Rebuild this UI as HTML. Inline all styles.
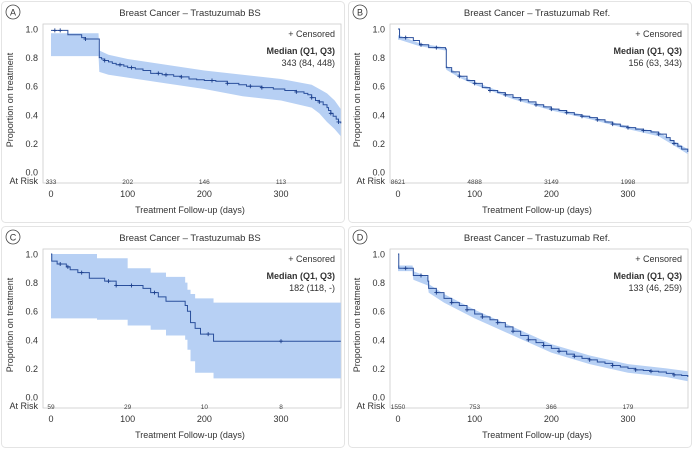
<!DOCTYPE html>
<html><head><meta charset="utf-8"><style>
body{margin:0;background:#fff;width:694px;height:450px;overflow:hidden;font-family:"Liberation Sans",sans-serif}
svg{display:block}
</style></head><body>
<svg id="chart" width="694" height="450" xmlns="http://www.w3.org/2000/svg"></svg>
<script>
// Panel A
const aT=[0,22,40,45,63,66,70,75,80,85,95,100,110,120,130,145,160,170,180,190,200,215,230,245,255,275,290,305,320,330,335,340,345,350,355,360,362,365,368,372,375,378];
const aS=[0.99,0.96,0.94,0.93,0.80,0.79,0.78,0.77,0.76,0.75,0.74,0.73,0.72,0.71,0.69,0.68,0.67,0.665,0.65,0.645,0.64,0.635,0.62,0.61,0.60,0.59,0.58,0.57,0.56,0.55,0.54,0.52,0.50,0.49,0.47,0.45,0.43,0.41,0.39,0.37,0.35,0.34];
const aBT=[0,62,63,75,100,150,200,250,300,340,350,360,370,378];
const aHi=[0.97,0.97,0.85,0.82,0.79,0.75,0.71,0.68,0.65,0.61,0.58,0.55,0.50,0.44];
const aLo=[0.81,0.81,0.70,0.68,0.66,0.62,0.58,0.53,0.50,0.45,0.41,0.35,0.30,0.25];
const aC=[5,12,45,70,90,105,140,150,170,210,230,260,275,320,340,350,365,375];
// Panel B
const bT=[0,2,20,28,40,50,62,63,70,80,90,100,110,120,130,140,150,160,170,180,190,200,210,220,230,240,250,260,270,280,290,300,310,320,330,340,350,355,360,365,370,378];
const bS=[1.0,0.94,0.92,0.89,0.87,0.87,0.86,0.73,0.70,0.67,0.64,0.62,0.59,0.57,0.555,0.54,0.52,0.505,0.49,0.47,0.455,0.44,0.43,0.415,0.40,0.39,0.38,0.365,0.35,0.335,0.32,0.31,0.30,0.29,0.28,0.265,0.24,0.22,0.20,0.18,0.16,0.14];
const bBT=[0,2,28,62,63,80,100,150,200,250,300,340,360,378];
const bHi=[0.955,0.955,0.90,0.87,0.745,0.68,0.63,0.53,0.45,0.39,0.32,0.28,0.215,0.16];
const bLo=[0.925,0.925,0.88,0.85,0.715,0.66,0.61,0.51,0.43,0.37,0.30,0.25,0.185,0.125];
const bC=[10,30,50,80,100,120,140,160,180,200,220,240,260,280,300,320,340,360];
// Panel C
const cT=[0,1,8,20,25,35,50,70,85,120,130,140,150,175,178,182,188,195,212];
const cS=[1.0,0.95,0.93,0.91,0.89,0.87,0.83,0.81,0.78,0.76,0.73,0.70,0.67,0.64,0.60,0.52,0.48,0.44,0.39];
const cBT=[0,60,100,130,150,175,178,182,188,212,378];
const cLo=[0.55,0.54,0.50,0.47,0.43,0.40,0.33,0.25,0.17,0.13,0.13];
const cHi=[1.0,0.97,0.90,0.87,0.84,0.80,0.75,0.72,0.69,0.66,0.66];
const cC=[12,22,40,75,85,105,135,205,300];
// Panel D
const dT=[0,1,19,20,39,40,50,60,70,80,90,100,110,120,130,140,150,160,170,180,190,200,210,220,230,240,250,260,270,280,290,300,310,320,330,340,350,360,370,378];
const dS=[1.0,0.90,0.90,0.85,0.81,0.76,0.73,0.69,0.66,0.64,0.61,0.58,0.56,0.54,0.52,0.49,0.46,0.43,0.40,0.38,0.36,0.34,0.32,0.30,0.285,0.27,0.26,0.245,0.235,0.22,0.21,0.20,0.19,0.185,0.18,0.175,0.165,0.155,0.15,0.14];
const dBT=[0,1,19,20,39,40,60,100,150,200,250,300,350,378];
const dHi=[0.92,0.92,0.92,0.88,0.84,0.79,0.72,0.61,0.49,0.37,0.29,0.23,0.20,0.18];
const dLo=[0.88,0.88,0.88,0.82,0.78,0.73,0.66,0.55,0.43,0.31,0.23,0.17,0.14,0.11];
const dC=[10,30,50,70,90,110,130,150,170,190,210,230,250,280,310,330,360];
const yTicks=[0,0.2,0.4,0.6,0.8,1.0];
const xTicks=[0,100,200,300];
const riskTimes=[0,100,200,300];
const panels=[
 {id:"A",ox:0,oy:0,title:"Breast Cancer – Trastuzumab BS",t:aT,s:aS,bt:aBT,lo:aLo,hi:aHi,c:aC,step:false,risk:["333","202","146","113"],med:"343 (84, 448)"},
 {id:"B",ox:347,oy:0,title:"Breast Cancer – Trastuzumab Ref.",t:bT,s:bS,bt:bBT,lo:bLo,hi:bHi,c:bC,step:false,risk:["8621","4888","3149","1998"],med:"156 (63, 343)"},
 {id:"C",ox:0,oy:225,title:"Breast Cancer – Trastuzumab BS",t:cT,s:cS,bt:cBT,lo:cLo,hi:cHi,c:cC,step:true,risk:["59","29","10","8"],med:"182 (118, -)"},
 {id:"D",ox:347,oy:225,title:"Breast Cancer – Trastuzumab Ref.",t:dT,s:dS,bt:dBT,lo:dLo,hi:dHi,c:dC,step:false,risk:["1550","753","366","179"],med:"133 (46, 259)"}
];
const NS="http://www.w3.org/2000/svg";
const svg=document.getElementById("chart");
function mk(tag,attrs,parent,text){const e=document.createElementNS(NS,tag);for(const k in attrs)e.setAttribute(k,attrs[k]);if(text!==undefined)e.textContent=text;(parent||svg).appendChild(e);return e;}
function stepAt(ts,vs,x){let v=vs[0];for(let i=0;i<ts.length;i++){if(ts[i]<=x)v=vs[i];}return v;}
panels.forEach(p=>{
 const g=mk("g",{transform:`translate(${p.ox},${p.oy})`});
 
 
 const X=d=>51+d*(230/300), Y=v=>172-v*143;
 const fr=mk("rect",{x:1.5,y:1.5,width:343,height:221,rx:4,fill:"none",stroke:"#e4e4e4"},g);
 
 const lab=mk("g",{},g);
 mk("circle",{cx:13,cy:12,r:7,fill:"#fff",stroke:"#444","stroke-width":0.8},lab);
 mk("text",{x:13,y:15.5,"font-size":9,"text-anchor":"middle",fill:"#333"},lab,p.id);
 const tt=mk("text",{x:190,y:16,"font-size":9.5,"text-anchor":"middle",fill:"#333"},g,p.title);
 
 const box=mk("rect",{x:43,y:24,width:298,height:159,fill:"#fff",stroke:"#ccc","stroke-width":0.8},g);
 
 let up="",low=[];
 const n=p.bt.length;
 for(let i=0;i<n;i++){const x0=X(p.bt[i]);
  if(p.step){const x1=X(i<n-1?p.bt[i+1]:378);
   up+=(i?"L":"M")+x0+","+Y(p.hi[i])+"L"+x1+","+Y(p.hi[i]);
   low.unshift(`L${x1},${Y(p.lo[i])}L${x0},${Y(p.lo[i])}`);}
  else{up+=(i?"L":"M")+x0+","+Y(p.hi[i]);low.unshift(`L${x0},${Y(p.lo[i])}`);}}
 const band=mk("path",{d:up+low.join("")+"Z",fill:"#b7d0f4"},g);
 
 let d="";
 for(let i=0;i<p.t.length;i++){const x=X(p.t[i]),y=Y(p.s[i]);d+=(i?`L${x},${Y(p.s[i-1])}L${x},${y}`:`M${x},${y}`);}
 d+=`L${X(378)},${Y(p.s[p.s.length-1])}`;
 const line=mk("path",{d:d,fill:"none",stroke:"#2a4f9c","stroke-width":1},g);
 
 p.c.forEach(ct=>{const x=X(ct),y=Y(stepAt(p.t,p.s,ct));
  const m=mk("path",{d:`M${x-2},${y}H${x+2}M${x},${y-2}V${y+2}`,stroke:"#1c3f8c","stroke-width":0.9},g);
  });
 yTicks.forEach(v=>{const t=mk("text",{x:38,y:Y(v)+3.5,"font-size":9,"text-anchor":"end",fill:"#333"},g,v.toFixed(1));
  });
 xTicks.forEach(v=>{const t=mk("text",{x:X(v),y:197,"font-size":9,"text-anchor":"middle",fill:"#333"},g,String(v));
  });
 const ar=mk("text",{x:38,y:184,"font-size":9,"text-anchor":"end",fill:"#333"},g,"At Risk");
 
 riskTimes.forEach((v,i)=>{const t=mk("text",{x:X(v),y:184,"font-size":6.5,"text-anchor":"middle",fill:"#444"},g,p.risk[i]);
  });
 const xt=mk("text",{x:190,y:213,"font-size":9,"text-anchor":"middle",fill:"#333"},g,"Treatment Follow-up (days)");
 
 const yt=mk("text",{x:0,y:0,"font-size":9,"text-anchor":"middle",fill:"#333",transform:"translate(13,100) rotate(-90)"},g,"Proportion on treatment");
 
 const lg=mk("text",{x:335,y:37,"font-size":9,"text-anchor":"end",fill:"#333"},g,"+ Censored");
 
 const mh=mk("text",{x:335,y:54,"font-size":9,"font-weight":"bold","text-anchor":"end",fill:"#333"},g,"Median (Q1, Q3)");
 
 const mv=mk("text",{x:335,y:66,"font-size":9,"text-anchor":"end",fill:"#333"},g,p.med);
 
});
</script>
</body></html>
